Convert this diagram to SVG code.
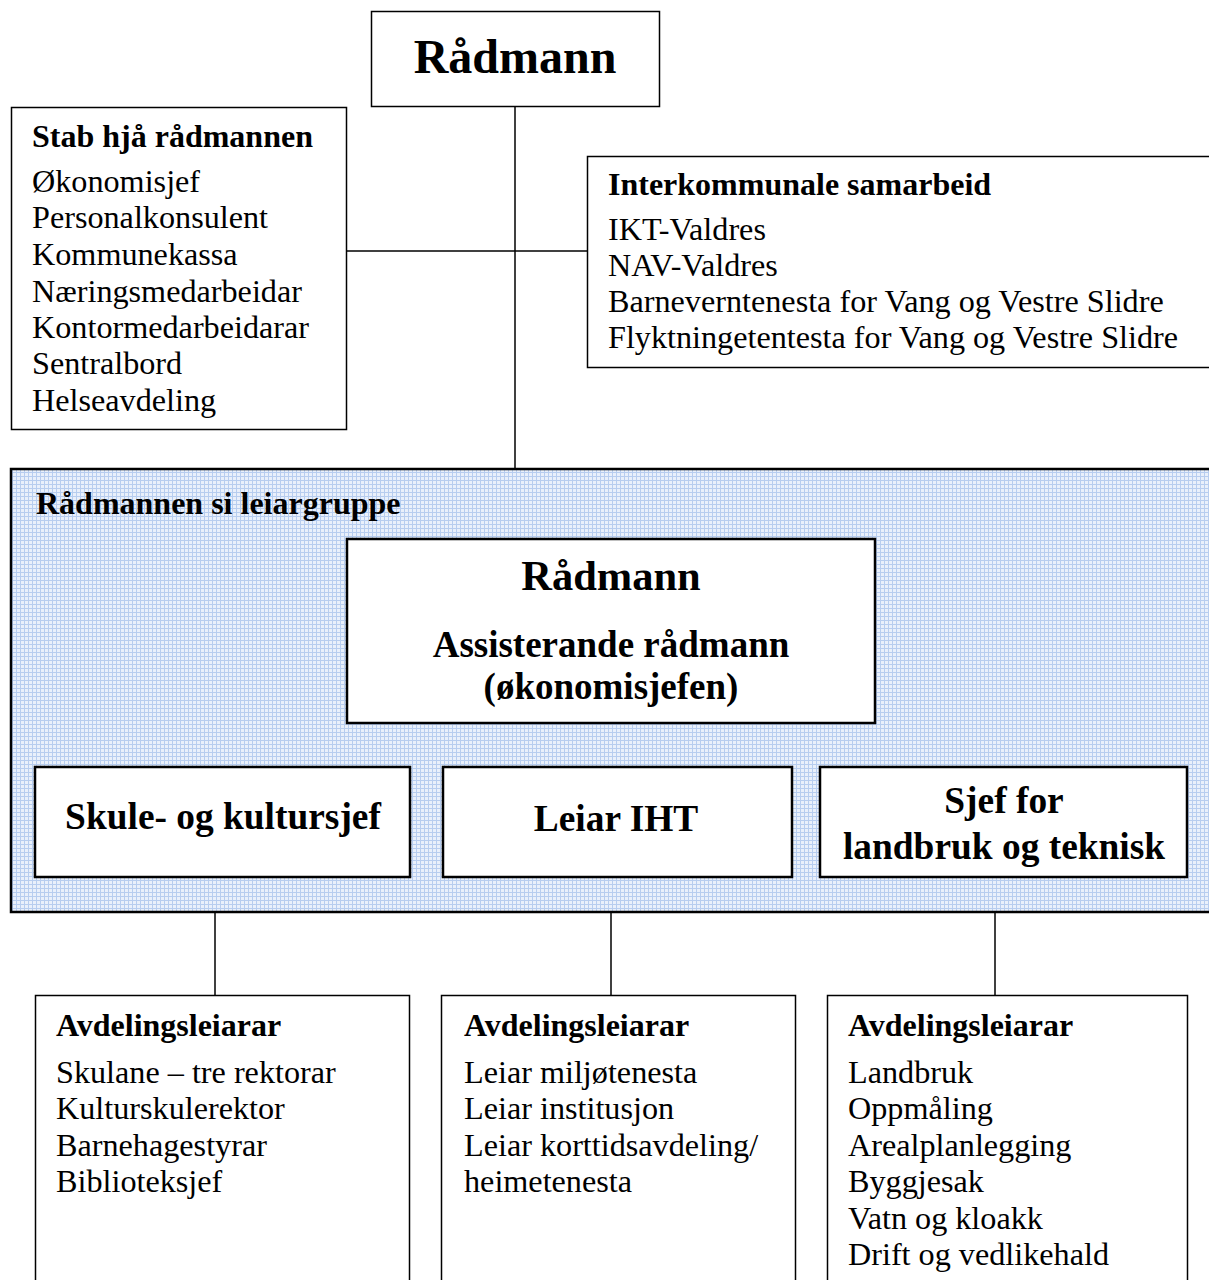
<svg xmlns="http://www.w3.org/2000/svg" width="1209" height="1280" viewBox="0 0 1209 1280">
<style>
.box{fill:#fff;stroke:#000;stroke-width:1.5}
.ibox{fill:#fff;stroke:#000;stroke-width:2.5}
.t{font-family:"Liberation Serif","Times New Roman",serif;fill:#000}
.b{font-weight:bold}
.body{font-size:32.2px}
.ttl{font-size:32px;font-weight:bold}
.mid{text-anchor:middle}
.conn{stroke:#000;stroke-width:1.5;fill:none}
</style>
<defs>
<pattern id="grid" width="4" height="4" patternUnits="userSpaceOnUse">
<rect width="4" height="4" fill="#e9f0fb"/>
<rect x="0" y="0" width="4" height="1" fill="#b7cdef"/>
<rect x="0" y="0" width="1" height="4" fill="#b7cdef"/>
</pattern>
</defs>
<rect width="1209" height="1280" fill="#fff"/>

<g id="connectors">
<line class="conn" x1="515" y1="107" x2="515" y2="469"/>
<line class="conn" x1="347" y1="251" x2="587" y2="251"/>
<line class="conn" x1="215" y1="912" x2="215" y2="995"/>
<line class="conn" x1="611" y1="912" x2="611" y2="995"/>
<line class="conn" x1="995" y1="912" x2="995" y2="995"/>
</g>

<g id="radmann-top">
<rect class="box" x="371.5" y="11.5" width="288" height="95"/>
<text class="t b mid" x="515" y="73" font-size="48">Rådmann</text>
</g>

<g id="stab">
<rect class="box" x="11.5" y="107.5" width="335" height="322"/>
<text class="t ttl" x="32" y="147">Stab hjå rådmannen</text>
<text class="t body" x="32" y="192">Økonomisjef</text>
<text class="t body" x="32" y="228">Personalkonsulent</text>
<text class="t body" x="32" y="265">Kommunekassa</text>
<text class="t body" x="32" y="302">Næringsmedarbeidar</text>
<text class="t body" x="32" y="338">Kontormedarbeidarar</text>
<text class="t body" x="32" y="374">Sentralbord</text>
<text class="t body" x="32" y="411">Helseavdeling</text>
</g>

<g id="interkommunale">
<rect class="box" x="587.5" y="156.5" width="625" height="211"/>
<text class="t ttl" x="608" y="195">Interkommunale samarbeid</text>
<text class="t body" x="608" y="240">IKT-Valdres</text>
<text class="t body" x="608" y="276">NAV-Valdres</text>
<text class="t body" x="608" y="312">Barneverntenesta for Vang og Vestre Slidre</text>
<text class="t body" x="608" y="348">Flyktningetentesta for Vang og Vestre Slidre</text>
</g>

<g id="leiargruppe">
<rect x="11" y="469" width="1202" height="443" fill="url(#grid)" stroke="#000" stroke-width="2.5"/>
<text class="t ttl" x="36" y="514">Rådmannen si leiargruppe</text>
</g>

<g id="radmann-inner">
<rect class="ibox" x="347" y="539" width="528" height="184"/>
<text class="t b mid" x="611" y="590" font-size="42.5">Rådmann</text>
<text class="t b mid" x="611" y="657" font-size="37">Assisterande rådmann</text>
<text class="t b mid" x="611" y="699" font-size="37">(økonomisjefen)</text>
</g>

<g id="skule">
<rect class="ibox" x="35" y="767" width="375" height="110"/>
<text class="t b mid" x="223" y="829" font-size="37.4">Skule- og kultursjef</text>
</g>

<g id="iht">
<rect class="ibox" x="443" y="767" width="349" height="110"/>
<text class="t b mid" x="616" y="831" font-size="37.4">Leiar IHT</text>
</g>

<g id="sjef">
<rect class="ibox" x="820" y="767" width="367" height="110"/>
<text class="t b mid" x="1004" y="813" font-size="37.4">Sjef for</text>
<text class="t b mid" x="1004" y="859" font-size="37.4">landbruk og teknisk</text>
</g>

<g id="avd-skule">
<rect class="box" x="35.5" y="995.5" width="374" height="300"/>
<text class="t ttl" x="56" y="1036">Avdelingsleiarar</text>
<text class="t body" x="56" y="1083">Skulane – tre rektorar</text>
<text class="t body" x="56" y="1119">Kulturskulerektor</text>
<text class="t body" x="56" y="1156">Barnehagestyrar</text>
<text class="t body" x="56" y="1192">Biblioteksjef</text>
</g>

<g id="avd-iht">
<rect class="box" x="441.5" y="995.5" width="354" height="300"/>
<text class="t ttl" x="464" y="1036">Avdelingsleiarar</text>
<text class="t body" x="464" y="1083">Leiar miljøtenesta</text>
<text class="t body" x="464" y="1119">Leiar institusjon</text>
<text class="t body" x="464" y="1156">Leiar korttidsavdeling/</text>
<text class="t body" x="464" y="1192">heimetenesta</text>
</g>

<g id="avd-teknisk">
<rect class="box" x="827.5" y="995.5" width="360" height="300"/>
<text class="t ttl" x="848" y="1036">Avdelingsleiarar</text>
<text class="t body" x="848" y="1083">Landbruk</text>
<text class="t body" x="848" y="1119">Oppmåling</text>
<text class="t body" x="848" y="1156">Arealplanlegging</text>
<text class="t body" x="848" y="1192">Byggjesak</text>
<text class="t body" x="848" y="1229">Vatn og kloakk</text>
<text class="t body" x="848" y="1265">Drift og vedlikehald</text>
</g>
</svg>
